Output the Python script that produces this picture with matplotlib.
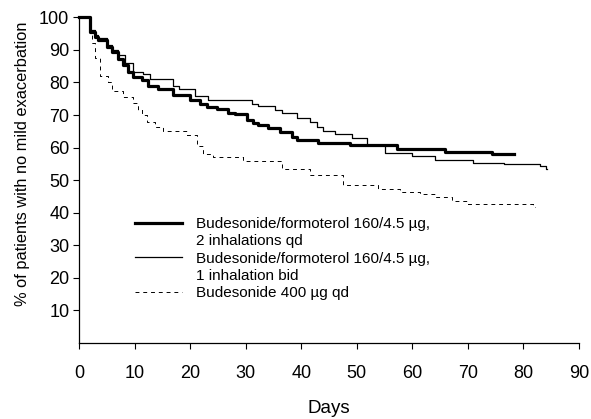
import matplotlib
matplotlib.use('Agg')
import matplotlib.pyplot as plt
from matplotlib.lines import Line2D

plt.rcParams['font.family'] = ['Liberation Sans', 'DejaVu Sans']

# Kaplan-Meier style step data: day of step, % without mild exacerbation
qd2_days = [0, 2, 2.9, 3.5, 5, 5.9, 7.1, 8, 8.9, 9.8, 11.3, 12.5, 14.3, 17, 20, 21.8,
            23, 24.8, 26.9, 28.1, 30.2, 31.4, 32.3, 34.1, 36.2, 38.3, 39.2, 43.1,
            48.8, 57.2, 65.9, 74.4, 78.3]
qd2_pct = [100, 95.5, 94, 93, 91, 89.4, 87.3, 85.3, 83.2, 81.7, 80.7, 79, 78.1, 76, 74.5,
           73.5, 72.5, 71.7, 70.6, 70.2, 68.6, 67.4, 66.9, 65.9, 64.8, 63.1, 62.3, 61.4,
           60.8, 59.7, 58.7, 58, 58]

bid_days = [0, 2, 2.9, 3.5, 5, 5.9, 7.1, 8.3, 9.8, 11.6, 12.8, 17, 18, 20.8, 23.2, 31.1,
            32.3, 35.3, 36.5, 39.2, 41.6, 42.8, 44, 46.1, 49.1, 51.8, 55.1, 60, 64.1,
            71, 76.5, 83, 84, 84.3]
bid_pct = [100, 96, 94.5, 93.5, 91.5, 90, 88.3, 86, 83.2, 82.7, 81.2, 79, 78, 75.8, 74.5,
           73.5, 72.7, 71.5, 70.5, 69, 67.9, 66.4, 65.1, 64.1, 62.8, 60.7, 58.4, 57.4,
           56.3, 55.3, 54.9, 54.3, 53.3, 53.3]

bud_days = [0, 2, 2.3, 2.9, 3.8, 5.3, 5.9, 8, 9.8, 10.7, 11.3, 12.2, 13.7, 15.2, 19.4,
            21.2, 22.4, 24.2, 29.6, 36.5, 41.6, 47.6, 53.9, 57.8, 61.4, 64.1, 67.1,
            70.1, 81.8, 82]
bud_pct = [100, 95, 92, 87.4, 82, 80.2, 77.3, 75.6, 73.6, 71.5, 70, 67.9, 66.4, 65, 63.8,
           60.5, 58, 57, 56, 53.5, 51.5, 48.5, 47.3, 46.4, 45.6, 44.7, 43.7, 42.6,
           41.8, 41.8]

labels = ['Budesonide/formoterol 160/4.5 \u00b5g,', '2 inhalations qd',
          'Budesonide/formoterol 160/4.5 \u00b5g,', '1 inhalation bid',
          'Budesonide 400 \u00b5g qd']

fig = plt.figure(figsize=(5.91, 4.19), dpi=100)
ax = fig.add_axes([0.1337, 0.1814, 0.8460, 0.7773])

l1, = ax.plot(qd2_days, qd2_pct, drawstyle='steps-post', color='black', lw=2.3, clip_on=False)
l2, = ax.plot(bid_days, bid_pct, drawstyle='steps-post', color='black', lw=0.9, clip_on=False)
l3, = ax.plot(bud_days, bud_pct, drawstyle='steps-post', color='black', lw=0.7,
              dashes=(4, 4), clip_on=False)

blank = Line2D([], [], color='none')
ax.legend([l1, blank, l2, blank, l3], labels, loc='upper left',
          bbox_to_anchor=(0.112, 0.387), frameon=False, fontsize=11,
          handlelength=3.1, handletextpad=0.88, labelspacing=0.22, borderpad=0,
          borderaxespad=0)

ax.set_xlim(0, 90)
ax.set_ylim(0, 100)
ax.set_xticks(range(0, 91, 10))
ax.set_yticks(range(10, 101, 10))
ax.spines['top'].set_visible(False)
ax.spines['right'].set_visible(False)
for s in ['left', 'bottom']:
    ax.spines[s].set_linewidth(0.9)
ax.tick_params(axis='x', direction='out', length=4, width=0.8, labelsize=13, pad=12)
ax.tick_params(axis='y', direction='out', length=4, width=0.8, labelsize=13, pad=3)

ax.set_xlabel('Days', fontsize=13.5, labelpad=13)
ax.set_ylabel('% of patients with no mild exacerbation', fontsize=11.8)
ax.yaxis.set_label_coords(-0.098, 0.55)

fig.savefig('out.png', dpi=100)
